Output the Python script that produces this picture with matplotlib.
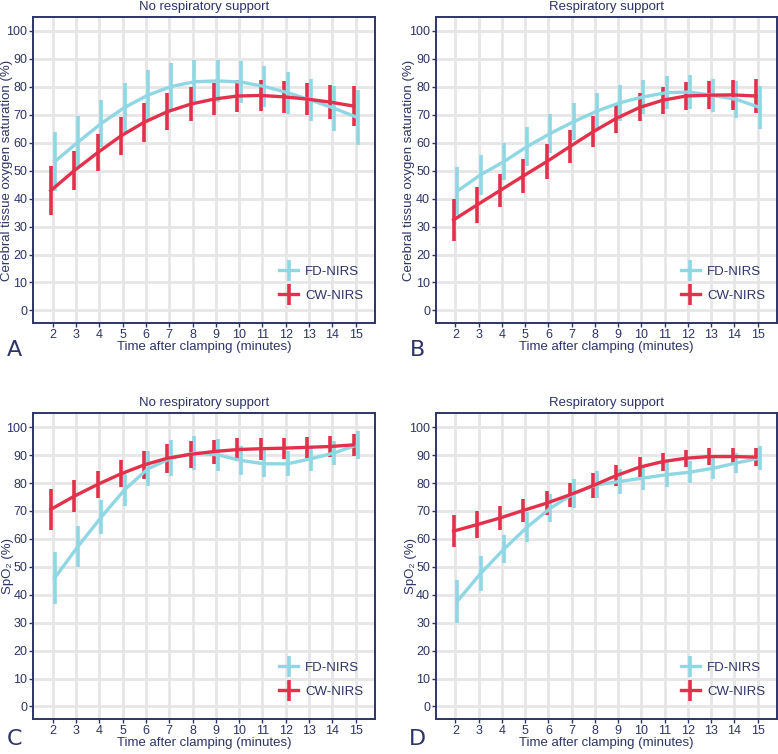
import matplotlib
matplotlib.use("Agg")
import matplotlib.pyplot as plt
from matplotlib.legend_handler import HandlerErrorbar
from matplotlib.container import ErrorbarContainer

# minutes after clamping
minutes = list(range(2, 16))

# panel A: cerebral saturation, no respiratory support
a_fd_mean = [53.2, 60.2, 66.9, 72.6, 77.0, 80.1, 81.8, 82.1, 81.7, 80.1, 77.9, 75.2, 72.3, 69.0]
a_fd_sd = [10.6, 9.4, 8.3, 8.6, 9.0, 8.5, 7.8, 7.5, 7.4, 7.4, 7.5, 7.6, 8.1, 9.7]
a_cw_mean = [42.9, 50.0, 56.4, 62.4, 67.3, 71.1, 73.8, 75.6, 76.7, 76.9, 76.4, 75.6, 74.5, 73.1]
a_cw_sd = [8.6, 7.1, 6.7, 6.7, 6.9, 6.7, 6.2, 5.7, 5.6, 5.5, 5.6, 5.8, 6.1, 7.1]

# panel B: cerebral saturation, respiratory support
b_fd_mean = [42.7, 48.5, 53.2, 58.6, 63.3, 67.5, 71.3, 74.3, 76.4, 77.9, 78.1, 76.9, 75.5, 72.6]
b_fd_sd = [8.6, 7.1, 6.6, 6.9, 7.0, 6.7, 6.6, 6.4, 6.1, 6.0, 6.0, 5.8, 6.6, 7.6]
b_cw_mean = [32.4, 37.7, 42.9, 48.1, 53.2, 58.6, 63.9, 68.7, 72.6, 75.2, 76.7, 77.0, 77.1, 76.7]
b_cw_sd = [7.4, 6.3, 5.8, 6.0, 6.2, 5.9, 5.5, 5.3, 5.0, 4.8, 5.1, 5.1, 5.4, 6.2]

# panel C: SpO2, no respiratory support
c_fd_mean = [46.0, 57.3, 67.8, 77.6, 85.1, 88.9, 90.8, 90.1, 88.1, 86.9, 86.9, 88.7, 90.8, 93.7]
c_fd_sd = [9.3, 7.3, 6.2, 5.8, 6.3, 6.5, 6.2, 5.7, 5.1, 4.8, 4.5, 4.2, 4.4, 5.1]
c_cw_mean = [70.6, 75.3, 79.5, 83.3, 86.5, 88.9, 90.3, 91.3, 92.0, 92.3, 92.5, 92.8, 93.1, 93.7]
c_cw_sd = [7.4, 5.8, 4.9, 4.8, 5.0, 5.2, 4.8, 4.3, 4.2, 4.0, 3.7, 3.8, 3.7, 4.0]

# panel D: SpO2, respiratory support
d_fd_mean = [37.7, 47.6, 56.3, 64.2, 71.0, 76.2, 79.4, 80.6, 81.8, 83.0, 83.9, 85.3, 87.2, 88.9]
d_fd_sd = [7.7, 6.2, 5.1, 5.3, 5.1, 5.3, 4.9, 4.5, 4.4, 4.4, 4.0, 3.9, 3.5, 4.3]
d_cw_mean = [62.8, 65.1, 67.5, 70.2, 72.8, 75.8, 79.1, 82.7, 85.7, 87.7, 88.9, 89.5, 89.5, 89.3]
d_cw_sd = [5.7, 4.8, 4.2, 4.1, 4.2, 4.2, 4.4, 3.9, 3.6, 3.2, 3.0, 3.0, 3.0, 3.3]

navy = "#2d3468"
fd_col = "#8fd7e3"
cw_col = "#e3304b"

plt.rcParams["font.family"] = ["Liberation Sans", "DejaVu Sans"]

fig = plt.figure(figsize=(7.78, 7.54), dpi=100)

panels = [
    ([0.0424, 0.5716, 0.4396, 0.406], "No respiratory support",
     "Cerebral tissue oxygen saturation (%)", "A", a_fd_mean, a_fd_sd, a_cw_mean, a_cw_sd),
    ([0.5600, 0.5716, 0.4387, 0.406], "Respiratory support",
     "Cerebral tissue oxygen saturation (%)", "B", b_fd_mean, b_fd_sd, b_cw_mean, b_cw_sd),
    ([0.0424, 0.0464, 0.4396, 0.4055], "No respiratory support",
     "SpO₂ (%)", "C", c_fd_mean, c_fd_sd, c_cw_mean, c_cw_sd),
    ([0.5600, 0.0464, 0.4387, 0.4055], "Respiratory support",
     "SpO₂ (%)", "D", d_fd_mean, d_fd_sd, d_cw_mean, d_cw_sd),
]

for i, (rect, title, ylabel, letter, fdm, fds, cwm, cws) in enumerate(panels):
    ax = fig.add_axes(rect)
    ax.set_xlim(1.15, 15.83)
    ax.set_ylim(-4.5, 105)
    ax.set_xticks(minutes)
    ax.set_yticks(range(0, 101, 10))
    ax.grid(True, color="#e6e6e6", lw=2.0)
    ax.set_axisbelow(True)

    ax.errorbar([m + 0.08 for m in minutes], fdm, yerr=fds, color=fd_col,
                lw=2.4, elinewidth=2.6, capsize=0, label="FD-NIRS")
    ax.errorbar([m - 0.08 for m in minutes], cwm, yerr=cws, color=cw_col,
                lw=2.4, elinewidth=2.6, capsize=0, label="CW-NIRS")

    for s in ax.spines.values():
        s.set_color(navy)
        s.set_linewidth(1.4)
    ax.tick_params(colors=navy, labelcolor=navy, labelsize=9, length=3, width=1, pad=1.5)
    ax.tick_params(axis="y", pad=1)
    ax.set_title(title, color=navy, fontsize=9.5, pad=5)
    ax.set_ylabel(ylabel, color=navy, fontsize=9.5)
    if i < 2:
        ax.yaxis.set_label_coords(-0.057 if i == 0 else -0.06, 0.5)
    else:
        ax.yaxis.set_label_coords(-0.055, 0.5)
    ax.set_xlabel("Time after clamping (minutes)", color=navy, fontsize=9.5, labelpad=0)
    ly = -0.088 if i < 2 else -0.065
    ax.text(-0.053, ly, letter, transform=ax.transAxes, color=navy,
            fontsize=16, ha="center", va="center", family="DejaVu Sans")

    leg = ax.legend(loc="lower right", bbox_to_anchor=(1.0, 0.03), frameon=False,
                    fontsize=9.5, handlelength=1.5, labelspacing=0.9, handletextpad=0.5,
                    handler_map={ErrorbarContainer: HandlerErrorbar(yerr_size=0.8)})
    for t in leg.get_texts():
        t.set_color(navy)

fig.savefig("out.png", dpi=100)
